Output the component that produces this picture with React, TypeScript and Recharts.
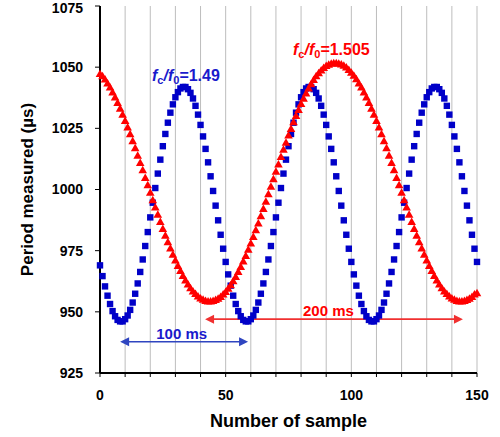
import React from 'react';
import {
  ScatterChart,
  Scatter,
  XAxis,
  YAxis,
  CartesianGrid,
  ReferenceLine,
  ReferenceDot,
} from 'recharts';

// Sample numbers (x categories)
const samples: number[] = Array.from({ length: 151 }, (_, i) => i);

// fc/f0 = 1.49 series (blue squares), period measured in µs
const bluePeriod: number[] = [
  969.0, 964.6, 960.4, 956.6, 953.2, 950.3, 948.2, 946.7, 946.1, 946.1,
  947.0, 948.5, 950.8, 953.8, 957.4, 961.6, 966.3, 971.4, 976.9, 982.6,
  988.6, 994.6, 1000.6, 1006.5, 1012.2, 1017.7, 1022.7, 1027.3, 1031.4, 1034.8,
  1037.7, 1039.8, 1041.3, 1041.9, 1041.9, 1041.0, 1039.5, 1037.2, 1034.2, 1030.6,
  1026.4, 1021.7, 1016.6, 1011.1, 1005.4, 999.4, 993.4, 987.4, 981.5, 975.8,
  970.4, 965.3, 960.7, 956.6, 953.2, 950.3, 948.2, 946.7, 946.1, 946.1,
  947.0, 948.5, 950.8, 953.8, 957.4, 961.6, 966.3, 971.4, 976.9, 982.6,
  988.6, 994.6, 1000.6, 1006.5, 1012.2, 1017.7, 1022.7, 1027.3, 1031.4, 1034.8,
  1037.7, 1039.8, 1041.3, 1041.9, 1041.9, 1041.0, 1039.5, 1037.2, 1034.2, 1030.6,
  1026.4, 1021.7, 1016.6, 1011.1, 1005.4, 999.4, 993.4, 987.4, 981.5, 975.8,
  970.4, 965.3, 960.7, 956.6, 953.2, 950.3, 948.2, 946.7, 946.1, 946.1,
  947.0, 948.5, 950.8, 953.8, 957.4, 961.6, 966.3, 971.4, 976.9, 982.6,
  988.6, 994.6, 1000.6, 1006.5, 1012.2, 1017.7, 1022.7, 1027.3, 1031.4, 1034.8,
  1037.7, 1039.8, 1041.3, 1041.9, 1041.9, 1041.0, 1039.5, 1037.2, 1034.2, 1030.6,
  1026.4, 1021.7, 1016.6, 1011.1, 1005.4, 999.4, 993.4, 987.4, 981.5, 975.8,
  970.4,
];

// fc/f0 = 1.505 series (red triangles)
const redPeriod: number[] = [
  1047.2, 1046.2, 1044.9, 1043.3, 1041.6, 1039.6, 1037.6, 1035.3, 1033.0, 1030.5,
  1028.0, 1025.3, 1022.5, 1019.7, 1016.8, 1013.8, 1010.8, 1007.8, 1004.7, 1001.7,
  998.6, 995.6, 992.6, 989.6, 986.7, 983.8, 981.1, 978.4, 975.8, 973.3,
  970.9, 968.7, 966.6, 964.6, 962.8, 961.1, 959.6, 958.3, 957.2, 956.2,
  955.4, 954.9, 954.4, 954.2, 954.2, 954.4, 954.8, 955.3, 956.0, 957.0,
  958.1, 959.4, 960.8, 962.5, 964.2, 966.2, 968.3, 970.5, 972.8, 975.3,
  977.9, 980.5, 983.3, 986.1, 989.0, 992.0, 995.0, 998.0, 1001.1, 1004.1,
  1007.2, 1010.2, 1013.2, 1016.2, 1019.1, 1022.0, 1024.7, 1027.4, 1030.0, 1032.5,
  1034.9, 1037.1, 1039.2, 1041.2, 1043.0, 1044.7, 1046.2, 1047.5, 1048.6, 1049.6,
  1050.4, 1050.9, 1051.4, 1051.6, 1051.6, 1051.4, 1051.0, 1050.5, 1049.8, 1048.8,
  1047.7, 1046.4, 1045.0, 1043.3, 1041.6, 1039.6, 1037.6, 1035.3, 1033.0, 1030.5,
  1028.0, 1025.3, 1022.5, 1019.7, 1016.8, 1013.8, 1010.8, 1007.8, 1004.7, 1001.7,
  998.6, 995.6, 992.6, 989.6, 986.7, 983.8, 981.1, 978.4, 975.8, 973.3,
  970.9, 968.7, 966.6, 964.6, 962.8, 961.1, 959.6, 958.3, 957.2, 956.2,
  955.4, 954.9, 954.4, 954.2, 954.2, 954.4, 954.8, 955.3, 956.0, 957.0,
  957.6,
];

const xTicks: number[] = [0, 10, 20, 30, 40, 50, 60, 70, 80, 90, 100, 110, 120, 130, 140, 150];
const yTicks: number[] = [925, 950, 975, 1000, 1025, 1050, 1075];

const blueLabel = { pre: 'f', sub1: 'c', mid: '/f', sub2: '0', post: '=1.49' };
const redLabel = { pre: 'f', sub1: 'c', mid: '/f', sub2: '0', post: '=1.505' };
const blueSpanText = '100 ms';
const redSpanText = '200 ms';

// Annotation anchors (data units)
const blueLabelPos = { x: 20.7, y: 1044.4 };
const redLabelPos = { x: 76.8, y: 1055.0 };
const blueSpan = { x1: 8, x2: 58.9, y: 937.8, tx: 32.5, ty: 938.9 };
const redSpan = { x1: 41.8, x2: 144.4, y: 947.0, tx: 90.9, ty: 948.4 };

const FONT = '"Liberation Sans", Arial, sans-serif';
const BLUE = '#0000c8';
const BLUE_TEXT = '#1a1acc';
const BLUE_ARROW = '#2f45c0';
const RED = '#ff0000';
const RED_ARROW = '#f03030';

const blueData = samples.map((s, i) => ({ x: s, y: bluePeriod[i] }));
const redData = samples.map((s, i) => ({ x: s, y: redPeriod[i] }));

const SquareShape = (props: any) => {
  const { cx, cy } = props;
  if (cx == null || cy == null) return null;
  return <rect x={cx - 3.2} y={cy - 3.2} width={6.4} height={6.4} fill={BLUE} />;
};

const TriangleShape = (props: any) => {
  const { cx, cy } = props;
  if (cx == null || cy == null) return null;
  return (
    <polygon
      points={`${cx},${cy - 4.6} ${cx - 4.3},${cy + 2.9} ${cx + 4.3},${cy + 2.9}`}
      fill={RED}
    />
  );
};

const makeArrow = (color: string) => (props: any) => {
  const { x1, y1, x2, y2 } = props;
  if (x1 == null) return null;
  const L = 9;
  const H = 4.5;
  return (
    <g>
      <line x1={x1 + L - 1} y1={y1} x2={x2 - L + 1} y2={y2} stroke={color} strokeWidth={1.6} />
      <polygon points={`${x1},${y1} ${x1 + L},${y1 - H} ${x1 + L},${y1 + H}`} fill={color} />
      <polygon points={`${x2},${y2} ${x2 - L},${y2 - H} ${x2 - L},${y2 + H}`} fill={color} />
    </g>
  );
};

const makeFracLabel = (lab: typeof blueLabel, color: string) => (props: any) => {
  const { cx, cy } = props;
  if (cx == null) return null;
  return (
    <text x={cx} y={cy} fill={color} fontFamily={FONT} fontWeight={700} fontSize={16}>
      <tspan fontStyle="italic">{lab.pre}</tspan>
      <tspan fontSize={11} dy={3}>{lab.sub1}</tspan>
      <tspan fontStyle="italic" dy={-3}>{lab.mid}</tspan>
      <tspan fontSize={11} dy={3}>{lab.sub2}</tspan>
      <tspan dy={-3}>{lab.post}</tspan>
    </text>
  );
};

const makeSpanText = (txt: string, color: string) => (props: any) => {
  const { cx, cy } = props;
  if (cx == null) return null;
  return (
    <text x={cx} y={cy} fill={color} fontFamily={FONT} fontWeight={700} fontSize={15} textAnchor="middle">
      {txt}
    </text>
  );
};

const tickStyle = { fontSize: 14, fontWeight: 700, fill: '#000', fontFamily: FONT };

const YTick = (props: any) => {
  const { x, y, payload } = props;
  const yy = Math.max(y, 8.5);
  return (
    <text
      x={x}
      y={yy}
      dy="0.355em"
      textAnchor="end"
      fontSize={14}
      fontWeight={700}
      fill="#000"
      fontFamily={FONT}
    >
      {payload.value}
    </text>
  );
};

export default function App() {
  return (
    <div style={{ position: 'absolute', left: 0, top: 0, width: 500, height: 437, background: '#fff' }}>
      <ScatterChart width={500} height={437} margin={{ top: 6, right: 23, bottom: 4, left: 0 }}>
        <CartesianGrid horizontal={false} stroke="#bdbdbd" strokeWidth={1} />
        <XAxis
          type="number"
          dataKey="x"
          domain={[0, 150]}
          ticks={xTicks}
          interval={0}
          height={60}
          tickFormatter={(v: number) => (v % 50 === 0 ? String(v) : '')}
          axisLine={{ stroke: '#000', strokeWidth: 2 }}
          tickLine={{ stroke: '#000' }}
          tickSize={4}
          tickMargin={13}
          tick={tickStyle}
          label={{
            content: (p: any) => {
              const vb = p.viewBox || { x: 100, width: 377 };
              return (
                <text
                  x={vb.x + vb.width / 2}
                  y={427}
                  textAnchor="middle"
                  fontFamily={FONT}
                  fontWeight={700}
                  fontSize={18}
                  fill="#000"
                >
                  Number of sample
                </text>
              );
            },
          }}
        />
        <YAxis
          type="number"
          dataKey="y"
          domain={[925, 1075]}
          ticks={yTicks}
          interval={0}
          width={100}
          axisLine={{ stroke: '#000', strokeWidth: 2 }}
          tickLine={{ stroke: '#000' }}
          tickSize={5}
          tickMargin={12}
          tick={<YTick />}
          label={{
            content: (p: any) => {
              const vb = p.viewBox || { y: 6, height: 367 };
              const cy = vb.y + vb.height / 2;
              return (
                <text
                  x={33}
                  y={cy}
                  transform={`rotate(-90 33 ${cy})`}
                  textAnchor="middle"
                  fontFamily={FONT}
                  fontWeight={700}
                  fontSize={17}
                  fill="#000"
                >
                  Period measured (µs)
                </text>
              );
            },
          }}
        />
        <Scatter data={blueData} shape={SquareShape} isAnimationActive={false} />
        <Scatter data={redData} shape={TriangleShape} isAnimationActive={false} />
        <ReferenceLine
          segment={[
            { x: blueSpan.x1, y: blueSpan.y },
            { x: blueSpan.x2, y: blueSpan.y },
          ]}
          shape={makeArrow(BLUE_ARROW)}
          ifOverflow="visible"
        />
        <ReferenceLine
          segment={[
            { x: redSpan.x1, y: redSpan.y },
            { x: redSpan.x2, y: redSpan.y },
          ]}
          shape={makeArrow(RED_ARROW)}
          ifOverflow="visible"
        />
        <ReferenceDot x={blueSpan.tx} y={blueSpan.ty} r={0} shape={makeSpanText(blueSpanText, BLUE_TEXT)} ifOverflow="visible" />
        <ReferenceDot x={redSpan.tx} y={redSpan.ty} r={0} shape={makeSpanText(redSpanText, RED)} ifOverflow="visible" />
        <ReferenceDot x={blueLabelPos.x} y={blueLabelPos.y} r={0} shape={makeFracLabel(blueLabel, BLUE_TEXT)} ifOverflow="visible" />
        <ReferenceDot x={redLabelPos.x} y={redLabelPos.y} r={0} shape={makeFracLabel(redLabel, RED)} ifOverflow="visible" />
      </ScatterChart>
    </div>
  );
}
